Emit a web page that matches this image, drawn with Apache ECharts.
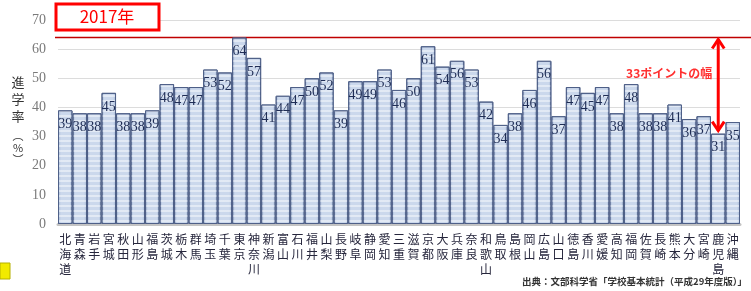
<!DOCTYPE html>
<html>
<head>
<meta charset="utf-8">
<script src="https://cdn.jsdelivr.net/npm/echarts@6/dist/echarts.min.js"></script>
<style>
  html, body { margin: 0; padding: 0; background: #fff; }
  #chart { width: 751px; height: 291px; }
</style>
</head>
<body>
<div id="chart"></div>
<script>
// 都道府県別 大学等進学率（2017年）
const prefectures = [
  '北海道', '青森', '岩手', '宮城', '秋田', '山形', '福島', '茨城', '栃木', '群馬',
  '埼玉', '千葉', '東京', '神奈川', '新潟', '富山', '石川', '福井', '山梨', '長野',
  '岐阜', '静岡', '愛知', '三重', '滋賀', '京都', '大阪', '兵庫', '奈良', '和歌山',
  '鳥取', '島根', '岡山', '広島', '山口', '徳島', '香川', '愛媛', '高知', '福岡',
  '佐賀', '長崎', '熊本', '大分', '宮崎', '鹿児島', '沖縄'
]
const rates = [
  39, 38, 38, 45, 38, 38, 39, 48, 47, 47,
  53, 52, 64, 57, 41, 44, 47, 50, 52, 39,
  49, 49, 53, 46, 50, 61, 54, 56, 53, 42,
  34, 38, 46, 56, 37, 47, 45, 47, 38, 48,
  38, 38, 41, 36, 37, 31, 35
]
const yTicks = [0, 10, 20, 30, 40, 50, 60, 70]

const chart = echarts.init(document.getElementById('chart'))

const barFill = new echarts.graphic.LinearGradient(0, 0, 1, 0, [
  { offset: 0, color: '#a3b7d6' },
  { offset: 0.2, color: '#cbd8ec' },
  { offset: 0.8, color: '#cbd8ec' },
  { offset: 1, color: '#a3b7d6' }
])

const options = {
  animation: false,
  grid: {
    top: 20,
    left: 58,
    right: 11,
    bottom: 67
  },
  xAxis: {
    type: 'category',
    data: prefectures,
    axisTick: { show: false },
    axisLine: {
      lineStyle: { color: '#c4c4c4', width: 3 }
    },
    axisLabel: {
      interval: 0,
      margin: 8,
      fontSize: 12,
      lineHeight: 15,
      color: '#26263c',
      fontFamily: 'Noto Sans CJK JP',
      formatter: v => v.split('').join('\n')
    }
  },
  yAxis: {
    type: 'value',
    min: yTicks[0],
    max: yTicks[yTicks.length - 1],
    interval: 10,
    axisLine: { show: false },
    axisTick: { show: false },
    axisLabel: {
      margin: 12,
      fontSize: 14,
      color: '#7a7a7a',
      fontFamily: 'Liberation Sans Narrow'
    },
    splitLine: {
      lineStyle: { color: '#dcdcdc', width: 1 }
    }
  },
  series: [
    {
      type: 'bar',
      data: rates,
      barCategoryGap: 0,
      itemStyle: {
        color: barFill,
        borderColor: '#4f6088',
        borderWidth: 1,
        decal: {
          symbol: 'rect',
          symbolSize: 1,
          dashArrayX: [[1, 0]],
          dashArrayY: [2, 3],
          color: 'rgba(255,255,255,0.45)'
        }
      },
      label: {
        show: true,
        position: 'insideTop',
        distance: 7,
        fontSize: 14,
        color: '#1f2d55',
        fontFamily: 'Liberation Sans Narrow'
      }
    }
  ]
}
chart.setOption(options)

// 注記（東京と鹿児島の差）
const tokyoY = chart.convertToPixel({ seriesIndex: 0 }, ['東京', 64])[1]
const kagoshima = chart.convertToPixel({ seriesIndex: 0 }, ['鹿児島', 31])
const ax = kagoshima[0]
const tipY = kagoshima[1] - 1

chart.setOption({
  graphic: [
    // タイトル枠
    {
      type: 'rect',
      shape: { x: 56, y: 4, width: 103, height: 26 },
      style: { fill: '#fff', stroke: '#ff0000', lineWidth: 3 }
    },
    {
      type: 'text',
      x: 107, y: 17,
      style: {
        text: '2017年', fill: '#ff0000', fontSize: 17,
        fontFamily: 'Noto Sans CJK JP', align: 'center', verticalAlign: 'middle'
      }
    },
    // 縦軸名
    {
      type: 'text',
      x: 18, y: 74,
      style: {
        text: '進\n学\n率', fill: '#333', fontSize: 13, lineHeight: 17,
        fontFamily: 'Noto Sans CJK JP', align: 'center'
      }
    },
    {
      type: 'text',
      x: 18, y: 130,
      style: {
        text: '︵\n%\n︶', fill: '#333', fontSize: 11, lineHeight: 12,
        fontFamily: 'Noto Sans CJK JP', align: 'center'
      }
    },
    // 最高値の赤線
    {
      type: 'line',
      shape: { x1: 55, y1: tokyoY, x2: 751, y2: tokyoY },
      style: { stroke: '#c00000', lineWidth: 1.5 }
    },
    // 両矢印
    {
      type: 'line',
      shape: { x1: ax, y1: tokyoY + 2, x2: ax, y2: tipY - 2 },
      style: { stroke: '#ff0000', lineWidth: 3 }
    },
    {
      type: 'polyline',
      shape: { points: [[ax - 6, tokyoY + 11], [ax, tokyoY + 2], [ax + 6, tokyoY + 11]] },
      style: { stroke: '#ff0000', lineWidth: 3, fill: null }
    },
    {
      type: 'polyline',
      shape: { points: [[ax - 6, tipY - 11], [ax, tipY - 2], [ax + 6, tipY - 11]] },
      style: { stroke: '#ff0000', lineWidth: 3, fill: null }
    },
    {
      type: 'text',
      x: ax - 6, y: 73,
      style: {
        text: '33ポイントの幅', fill: '#ff3030', fontSize: 12, fontWeight: 'bold',
        fontFamily: 'Noto Sans CJK JP', align: 'right', verticalAlign: 'middle'
      }
    },
    // 出典
    {
      type: 'text',
      x: 747, y: 281,
      style: {
        text: '出典：文部科学省「学校基本統計（平成29年度版）」', fill: '#333',
        fontSize: 9.5, fontWeight: 'bold',
        fontFamily: 'Noto Sans CJK JP', align: 'right', verticalAlign: 'middle'
      }
    },
    // 左端の切れ端
    {
      type: 'rect',
      shape: { x: 0, y: 263, width: 10, height: 16 },
      style: { fill: '#f2ea00', stroke: '#b5b000', lineWidth: 1 }
    }
  ]
})

window.addEventListener('resize', () => chart.resize())
</script>
</body>
</html>
